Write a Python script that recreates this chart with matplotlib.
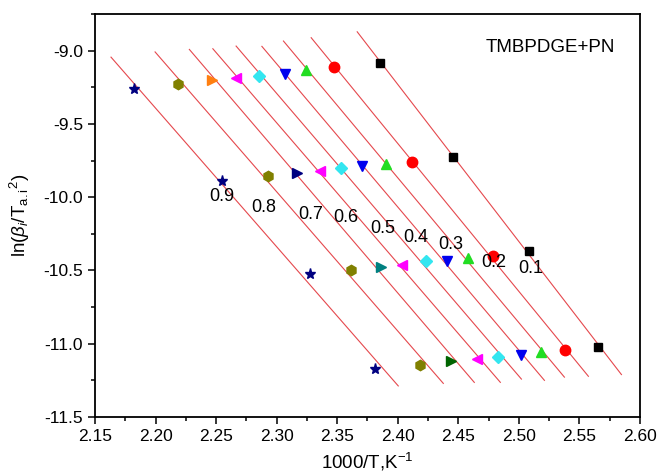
import numpy as np
import matplotlib
matplotlib.use('Agg')
from matplotlib import pyplot as plt
from matplotlib.ticker import MultipleLocator, FormatStrFormatter

plt.rcParams['font.family'] = ['Liberation Sans', 'DejaVu Sans']
plt.rcParams['axes.unicode_minus'] = False
plt.rcParams['mathtext.fontset'] = 'custom'
plt.rcParams['mathtext.rm'] = 'Liberation Sans'
plt.rcParams['mathtext.it'] = 'Liberation Sans:italic'

# conversion degree of each group
alphas = ['0.1', '0.2', '0.3', '0.4', '0.5', '0.6', '0.7', '0.8', '0.9']

# 1000/T for each group (four heating rates)
x_vals = [
    [2.3855, 2.4459, 2.5086, 2.5657],
    [2.3475, 2.4120, 2.4783, 2.5384],
    [2.3246, 2.3905, 2.4577, 2.5186],
    [2.3068, 2.3707, 2.4403, 2.5021],
    [2.2855, 2.3533, 2.4233, 2.4831],
    [2.2663, 2.3360, 2.4031, 2.4657],
    [2.2469, 2.3169, 2.3861, 2.4442],
    [2.2186, 2.2930, 2.3616, 2.4186],
    [2.1822, 2.2550, 2.3277, 2.3814],
]
# ln(beta/T^2)
y_vals = [
    [-9.082, -9.724, -10.370, -11.023],
    [-9.109, -9.758, -10.399, -11.046],
    [-9.131, -9.772, -10.414, -11.057],
    [-9.159, -9.790, -10.433, -11.080],
    [-9.170, -9.799, -10.437, -11.091],
    [-9.188, -9.819, -10.460, -11.102],
    [-9.200, -9.833, -10.475, -11.118],
    [-9.229, -9.858, -10.494, -11.143],
    [-9.261, -9.888, -10.521, -11.175],
]
# where the alpha labels sit
label_x = [2.5101, 2.4789, 2.4440, 2.4150, 2.3872, 2.3572, 2.3283, 2.2897, 2.2547]
label_y = [-10.487, -10.444, -10.324, -10.276, -10.215, -10.140, -10.119, -10.072, -9.995]

markers = ['s', 'o', '^', 'v', 'D', '<', '>', 'h', '*']
sizes = [6, 7.5, 7.5, 7.5, 6, 7.5, 7.5, 7.5, 8]
colors = [
    ['black'] * 4,
    ['#ff0000'] * 4,
    ['#22dd22'] * 4,
    ['#0000ee'] * 4,
    ['#33e6f0'] * 4,
    ['#ff00ff'] * 4,
    ['#ff7f10', '#000080', '#008080', '#006400'],
    ['#808000'] * 4,
    ['#000080'] * 4,
]

fig = plt.figure(figsize=(6.58, 4.76), dpi=100)
ax = fig.add_axes([0.1444, 0.1239, 0.8282, 0.8467])

ext = 0.019
for i in range(len(alphas)):
    xs = np.array(x_vals[i])
    ys = np.array(y_vals[i])
    k, b = np.polyfit(xs, ys, 1)
    xl = np.array([xs.min() - ext, xs.max() + ext])
    ax.plot(xl, k * xl + b, color='#e5484d', lw=0.8, zorder=1)
    for j in range(len(xs)):
        ax.plot(xs[j], ys[j], marker=markers[i], ms=sizes[i], color=colors[i][j],
                mec=colors[i][j], ls='none', zorder=3)
    ax.text(label_x[i], label_y[i], alphas[i], fontsize=13, ha='center', va='center')

ax.text(0.954, 0.918, 'TMBPDGE+PN', transform=ax.transAxes, fontsize=13.5,
        ha='right', va='center')

ax.set_xlim(2.15, 2.60)
ax.set_ylim(-11.5, -8.75)
ax.xaxis.set_major_locator(MultipleLocator(0.05))
ax.xaxis.set_minor_locator(MultipleLocator(0.025))
ax.yaxis.set_major_locator(MultipleLocator(0.5))
ax.yaxis.set_minor_locator(MultipleLocator(0.25))
ax.xaxis.set_major_formatter(FormatStrFormatter('%.2f'))
ax.yaxis.set_major_formatter(FormatStrFormatter('%.1f'))
ax.tick_params(axis='both', which='major', direction='out', length=5, width=1.1,
               labelsize=12.5, top=False, right=False)
ax.tick_params(axis='both', which='minor', direction='out', length=3, width=1.1,
               top=False, right=False)
for s in ax.spines.values():
    s.set_linewidth(1.3)

ax.set_xlabel('1000/T,K$^{-1}$', fontsize=13.5, labelpad=5)
ax.set_ylabel(r'ln($\beta_i$/T$_{\rm a.i}$$^{\rm 2}$)', fontsize=13.5, labelpad=8)

fig.savefig('out.png', dpi=100)
